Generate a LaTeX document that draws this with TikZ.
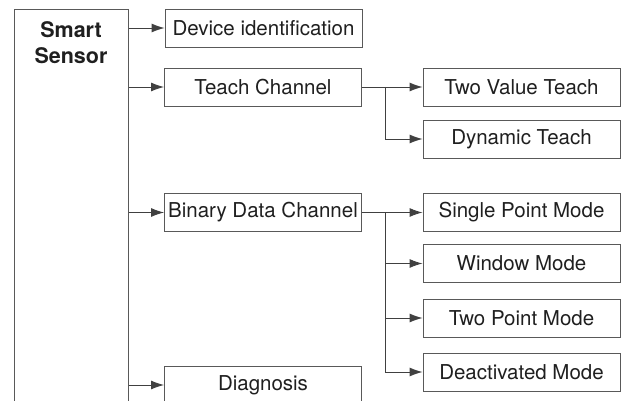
\documentclass[tikz,border=0pt]{standalone}
\usepackage{fontspec}
\setmainfont{TeX Gyre Heros}
\usetikzlibrary{arrows.meta,positioning}
\definecolor{BoxClr}{rgb}{0.35,0.35,0.35}
\definecolor{LineClr}{rgb}{0.25,0.25,0.25}
\definecolor{TxtClr}{rgb}{0.12,0.12,0.12}

\tikzset{
  box/.style={draw=BoxClr,line width=0.9pt,minimum width=197pt,minimum height=38pt,
    inner sep=0pt,text=TxtClr,font=\fontsize{20.5}{24}\selectfont},
  arr/.style={draw=LineClr,line width=0.9pt,-{Latex[length=13pt,width=9pt]}}
}

\begin{document}
\begin{tikzpicture}[x=1pt,y=-1pt]
\useasboundingbox (0,0) rectangle (625,401);
\clip (0,0) rectangle (625,401);

% sensor block, runs off the bottom
\node[draw=BoxClr,line width=0.9pt,anchor=north west,minimum width=114pt,minimum height=430pt,inner sep=0pt] (sensor) at (14,9) {};
\node[font=\fontsize{21.5}{26}\selectfont\bfseries,align=center,text=TxtClr] (sensortxt) at (71,43) {Smart\\Sensor};

% first level
\node[box] (devid) at (263.5,28) {Device identification};
\node[box] (teach) at (263,87) {Teach Channel};
\node[box] (binary) at (263,212.5) {Binary Data Channel};
\node[box] (diag) at (263,385) {Diagnosis};

% second level
\node[box] (twoval) at (521.5,87) {Two Value Teach};
\node[box] (dynamic) at (521.5,139) {Dynamic Teach};
\node[box] (single) at (521.5,212.5) {Single Point Mode};
\node[box] (window) at (521.5,263.5) {Window Mode};
\node[box] (twopoint) at (521.5,318) {Two Point Mode};
\node[box] (deact) at (521.5,372) {Deactivated Mode};

\coordinate (tfork) at (385,87);
\coordinate (bfork) at (385,212.5);

\foreach \n in {devid,teach,binary,diag}
  \draw[arr] (sensor.east |- \n.west) -- (\n.west);

\draw[arr] (teach.east) -- (twoval.west);
\draw[arr] (tfork) |- (dynamic.west);

\draw[arr] (binary.east) -- (single.west);
\foreach \n in {window,twopoint,deact}
  \draw[arr] (bfork) |- (\n.west);

\end{tikzpicture}
\end{document}
